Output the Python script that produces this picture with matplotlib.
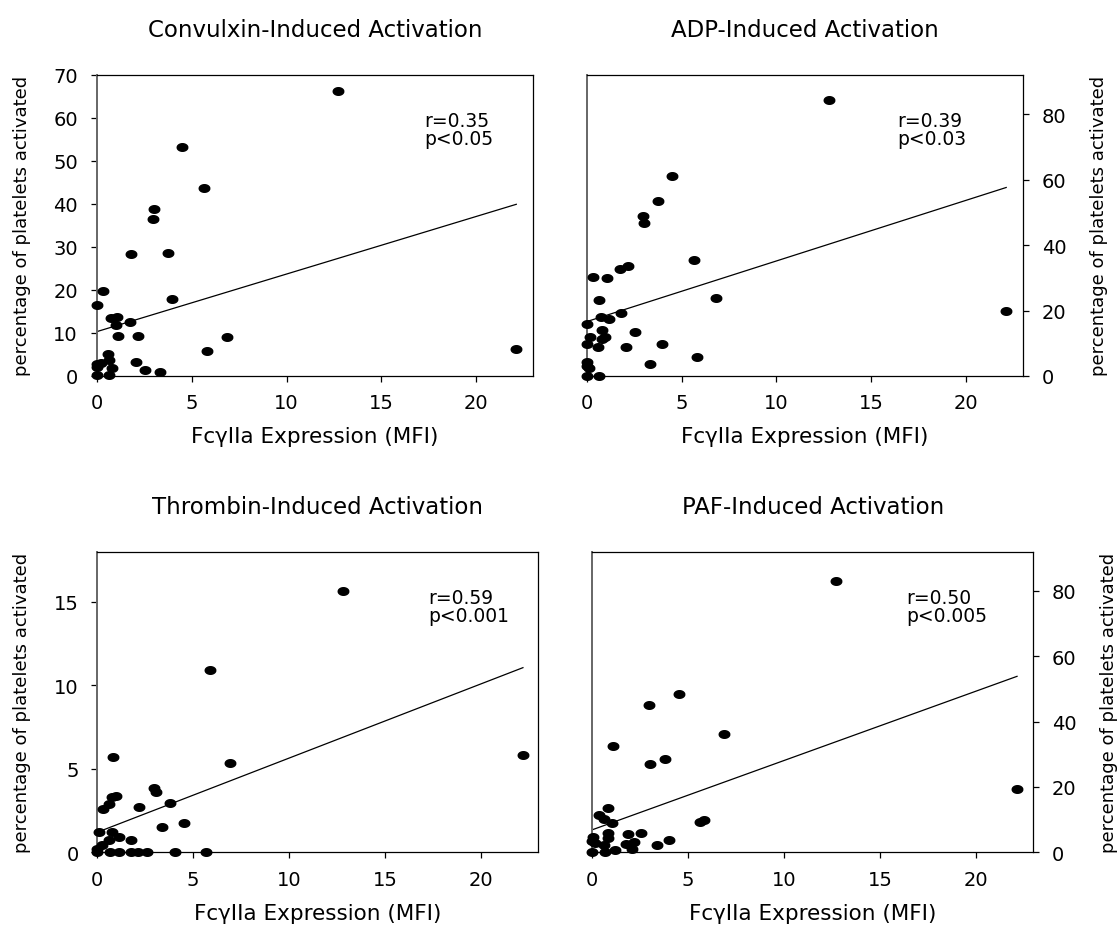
import numpy as np
import matplotlib
matplotlib.use("Agg")
from matplotlib import pyplot as plt
from matplotlib.path import Path

# Values (FcgIIa MFI vs % activated platelets)
conv_x = [0, 3.98, 0.74, 1.09, 1.0, 1.75, 1.14, 2.17, 6.84, 5.8, 0.58, 0.63, 2.07, 0.03, 0.21,
          0, 0.8, 2.54, 3.33, 0, 0.66, 22.1, 12.72, 4.49, 5.63, 3.02, 2.96, 1.81, 3.75, 0.32]
conv_y = [16.4, 17.8, 13.4, 13.6, 11.9, 12.6, 9.2, 9.2, 9.1, 5.9, 5.0, 3.8, 3.3, 2.8, 2.9,
          2.0, 1.9, 1.4, 1.0, 0.2, 0.2, 6.3, 66.2, 53.3, 43.6, 38.8, 36.4, 28.3, 28.6, 19.7]

adp_x = [12.74, 4.49, 3.75, 2.96, 3.02, 5.63, 2.16, 1.75, 0.32, 1.09, 0.63, 6.84, 1.82, 0.77,
         1.16, 0, 0.18, 0.82, 0.81, 0.98, 2.53, 0, 0.61, 2.07, 3.98, 5.8, 22.1, 3.33, 0, 0,
         0.1, 0, 0.66]
adp_y = [84.2, 61.1, 53.4, 48.9, 46.7, 35.5, 33.7, 32.7, 30.2, 29.9, 23.3, 23.9, 19.2, 17.9,
         17.3, 15.8, 12.0, 13.9, 11.2, 11.9, 13.5, 9.8, 9.0, 8.8, 9.7, 5.9, 19.8, 3.6, 4.4, 2.9,
         2.3, 0, 0]

thr_x = [12.81, 5.86, 6.91, 0.82, 2.98, 3.06, 0.98, 0.75, 0.6, 0.31, 2.18, 3.77, 3.39, 4.52,
         0.09, 0.79, 1.15, 0.63, 1.76, 0.23, 0, 0, 0.66, 1.12, 1.78, 2.1, 2.57, 4.03, 5.65, 22.2]
thr_y = [15.66, 10.9, 5.34, 5.68, 3.86, 3.64, 3.38, 3.29, 2.87, 2.57, 2.73, 2.93, 1.49, 1.77,
         1.19, 1.19, 0.93, 0.73, 0.75, 0.44, 0.2, 0, 0, 0, 0, 0, 0, 0, 0, 5.8]

paf_x = [12.73, 4.5, 2.97, 6.86, 1.09, 3.77, 3.02, 0.83, 0.33, 0.61, 1.01, 5.63, 5.83, 0.82,
         1.84, 2.54, 0.05, 0.8, 0, 0.16, 0.63, 1.76, 2.17, 3.35, 3.98, 2.07, 0, 0.68, 1.17, 22.15]
paf_y = [83.0, 48.3, 45.0, 36.3, 32.5, 28.7, 27.1, 13.5, 11.4, 10.2, 9.1, 9.4, 9.8, 6.0,
         5.7, 6.0, 4.8, 4.3, 3.5, 2.8, 2.2, 2.4, 3.1, 2.2, 3.8, 0.9, 0.2, 0.2, 0.6, 19.5]

# Regression lines as drawn in the picture
fit_intercept = [10.3, 16.6, 1.2, 6.9]
fit_slope = [1.34, 1.855, 0.444, 2.12]

titles = ["Convulxin-Induced Activation", "ADP-Induced Activation",
          "Thrombin-Induced Activation", "PAF-Induced Activation"]
stats = ["r=0.35\np<0.05", "r=0.39\np<0.03", "r=0.59\np<0.001", "r=0.50\np<0.005"]
y_ticks = [np.arange(0, 71, 10), np.arange(0, 81, 20), np.arange(0, 16, 5), np.arange(0, 81, 20)]
y_max = [70, 92, 18, 92]

plt.rcParams["font.family"] = ["DejaVu Sans"]

# Slightly flattened dot, the original picture is stretched sideways
t = np.linspace(0, 2 * np.pi, 40)
dot = Path(np.column_stack([np.cos(t), 0.72 * np.sin(t)]))


def draw_panel(ax, x, y, i, right=False):
    ax.plot(x, y, linestyle="none", marker=dot, markersize=7.6, color="black",
            clip_on=False, zorder=3)

    xs = np.array([0, max(x)])
    ax.plot(xs, fit_intercept[i] + fit_slope[i] * xs, color="black", linewidth=0.9)

    ax.set_xlim(0, 23)
    ax.set_ylim(0, y_max[i])
    ax.set_xticks([0, 5, 10, 15, 20])
    ax.set_yticks(y_ticks[i])
    ax.tick_params(axis="both", direction="out", length=4.5, width=0.9, labelsize=14)
    ax.tick_params(axis="x", pad=8)
    ax.tick_params(axis="y", pad=9)

    ax.set_title(titles[i], fontsize=16.5, pad=28)
    ax.set_xlabel("Fc\u03b3IIa Expression (MFI)", fontsize=15.5, labelpad=10)
    ax.set_ylabel("percentage of platelets activated", fontsize=13)
    if right:
        ax.yaxis.tick_right()
        ax.yaxis.set_label_position("right")
        ax.yaxis.labelpad = 17
    else:
        ax.yaxis.labelpad = 16

    for side in ["top", "right", "bottom"]:
        ax.spines[side].set_linewidth(0.9)
    ax.spines["left"].set_color("#666666")
    ax.spines["left"].set_linewidth(1.4)

    ax.text(0.75 if not right else 0.712, 0.88, stats[i], transform=ax.transAxes,
            fontsize=13.5, va="top", ha="left", linespacing=0.95)


fig = plt.figure(figsize=(11.17, 9.28), dpi=100)
ax1 = fig.add_axes([0.0866, 0.5938, 0.3909, 0.3244])
ax2 = fig.add_axes([0.5252, 0.5938, 0.3909, 0.3244])
ax3 = fig.add_axes([0.0871, 0.0805, 0.3948, 0.3239])
ax4 = fig.add_axes([0.5303, 0.0805, 0.3948, 0.3239])

draw_panel(ax1, conv_x, conv_y, 0)
draw_panel(ax2, adp_x, adp_y, 1, right=True)
draw_panel(ax3, thr_x, thr_y, 2)
draw_panel(ax4, paf_x, paf_y, 3, right=True)

fig.savefig("out.png", dpi=100)
